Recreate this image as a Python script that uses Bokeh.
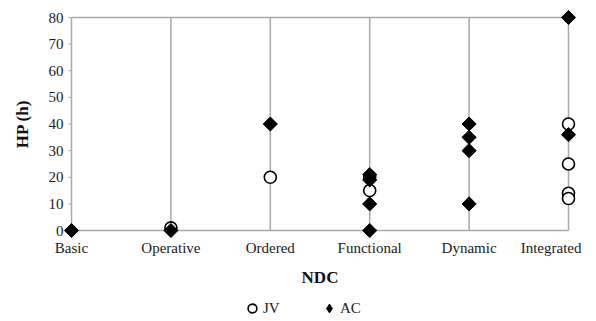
import math
from bokeh.plotting import figure
from bokeh.layouts import column
from bokeh.models import FixedTicker, Legend, LegendItem, Range1d
from bokeh.embed import file_html
from bokeh.resources import INLINE

categories = ["Basic", "Operative", "Ordered", "Functional", "Dynamic", "Integrated"]

# JV series: (category index, HP value)
jv_cat = [1, 2, 3, 3, 5, 5, 5, 5]
jv_val = [1, 20, 20, 15, 40, 25, 14, 12]

# AC series
ac_cat = [0, 1, 2, 3, 3, 3, 3, 4, 4, 4, 4, 5, 5]
ac_val = [0, 0, 40, 21, 19, 10, 0, 40, 35, 30, 10, 80, 36]

y_ticks = [0, 10, 20, 30, 40, 50, 60, 70, 80]

FONT = "Liberation Serif"
GRID = "#aaaaaa"
JV_STYLE = dict(marker="circle", size=12, fill_color="white", line_color="black", line_width=1.6)
AC_STYLE = dict(marker="square", size=10, angle=math.pi / 4, fill_color="black", line_color="black")

n = len(categories)
y_min, y_max = y_ticks[0], y_ticks[-1]
PAD_X, PAD_Y = 12, 10
fw, fh = 497, 213
dx = (n - 1) / fw * PAD_X
dy = (y_max - y_min) / fh * PAD_Y

MAIN_H = 290
p = figure(width=596, height=MAIN_H,
           output_backend="svg", toolbar_location=None,
           x_range=Range1d(-dx, n - 1 + dx), y_range=Range1d(y_min - dy, y_max + dy),
           min_border_left=59, min_border_right=16, min_border_top=7,
           min_border_bottom=MAIN_H - 7 - fh - 2 * PAD_Y)
p.outline_line_color = None
p.background_fill_color = "white"
p.border_fill_color = "white"
p.xgrid.visible = False
p.ygrid.visible = False

cats = list(range(n))
p.segment(x0=cats, y0=[y_min] * n, x1=cats, y1=[y_max] * n, line_color=GRID, line_width=1.5)
p.segment(x0=[0, 0], y0=[y_min, y_max], x1=[n - 1, n - 1], y1=[y_min, y_max],
          line_color=GRID, line_width=1.5)
tick_len = 3 / fw * (n - 1)
p.segment(x0=[-tick_len] * len(y_ticks), y0=y_ticks, x1=[0] * len(y_ticks), y1=y_ticks,
          line_color=GRID, line_width=1)

# x axis
p.xaxis.ticker = FixedTicker(ticks=cats)
labels = list(categories)
labels[-1] = labels[-1] + "\u00a0" * 4
p.xaxis.major_label_overrides = {i: c for i, c in enumerate(labels)}
p.xaxis.axis_label = "NDC"
p.xaxis.axis_line_color = None
p.xaxis.major_tick_line_color = None
p.xaxis.minor_tick_line_color = None
p.xaxis.major_label_standoff = -7
p.xaxis.axis_label_standoff = 9

# y axis
p.yaxis.ticker = FixedTicker(ticks=y_ticks)
p.yaxis.axis_label = "HP (h)"
p.yaxis.axis_line_color = None
p.yaxis.major_tick_line_color = None
p.yaxis.major_tick_out = 0
p.yaxis.major_tick_in = 0
p.yaxis.minor_tick_line_color = None
p.yaxis.major_label_standoff = -4
p.yaxis.axis_label_standoff = 14

for ax in (p.xaxis, p.yaxis):
    ax.major_label_text_font = FONT
    ax.major_label_text_font_size = "15px"
    ax.major_label_text_color = "#1a1a1a"
    ax.axis_label_text_font = FONT
    ax.axis_label_text_font_size = "17px"
    ax.axis_label_text_font_style = "bold"
    ax.axis_label_text_color = "#111111"

p.scatter(jv_cat, jv_val, **JV_STYLE)
p.scatter(ac_cat, ac_val, **AC_STYLE)

# legend strip below the chart (its renderers sit outside the visible range)
lg = figure(width=596, height=321 - MAIN_H, output_backend="svg", toolbar_location=None,
            x_range=Range1d(0, 1), y_range=Range1d(0, 1),
            min_border=0, min_border_left=0, min_border_right=0,
            min_border_top=0, min_border_bottom=0)
lg.axis.visible = False
lg.grid.visible = False
lg.outline_line_color = None
lg.border_fill_color = "white"
jv_r = lg.scatter([-10], [-10], marker="circle", size=10, fill_color="white",
                  line_color="black", line_width=1.6)
ac_r = lg.scatter([-10], [-10], marker="diamond", size=14, fill_color="black",
                  line_color="black")
legend = Legend(items=[LegendItem(label="JV", renderers=[jv_r]),
                       LegendItem(label="AC", renderers=[ac_r])],
                orientation="horizontal", border_line_color=None,
                background_fill_alpha=0, label_text_font=FONT,
                label_text_font_size="15px", label_text_color="#1a1a1a",
                spacing=35, padding=0, margin=0,
                glyph_width=22, glyph_height=22, label_standoff=0,
                location=(182, 2))
lg.add_layout(legend)

layout = column(p, lg, spacing=0)
open("out.html", "w").write(file_html(layout, INLINE))
